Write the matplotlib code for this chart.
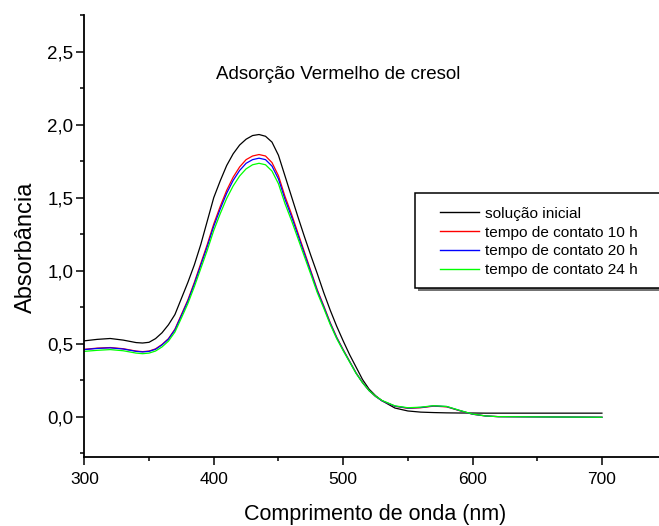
import matplotlib
matplotlib.use("Agg")
import matplotlib.pyplot as plt
from matplotlib.patches import Rectangle
from matplotlib.ticker import MultipleLocator, FuncFormatter

plt.rcParams['font.family'] = ['Liberation Sans', 'DejaVu Sans']

# comprimento de onda (nm)
wavelength = [300, 310, 320, 330, 340, 345, 350, 355, 360, 365, 370, 375, 380, 385,
              390, 395, 400, 405, 410, 415, 420, 425, 430, 435, 440, 445, 450, 455,
              460, 465, 470, 475, 480, 485, 490, 495, 500, 505, 510, 515, 520, 525,
              530, 540, 550, 560, 570, 580, 590, 600, 610, 620, 640, 660, 680, 700]

abs_inicial = [0.520, 0.530, 0.536, 0.525, 0.508, 0.505, 0.510, 0.535, 0.575, 0.630,
               0.700, 0.810, 0.920, 1.040, 1.180, 1.340, 1.500, 1.615, 1.720, 1.800,
               1.860, 1.900, 1.925, 1.932, 1.920, 1.880, 1.790, 1.650, 1.510, 1.370,
               1.235, 1.105, 0.980, 0.850, 0.730, 0.620, 0.520, 0.425, 0.340, 0.255,
               0.190, 0.145, 0.110, 0.060, 0.040, 0.032, 0.029, 0.027, 0.026, 0.026,
               0.025, 0.025, 0.025, 0.025, 0.025, 0.025]

abs_10h = [0.462, 0.470, 0.474, 0.466, 0.450, 0.446, 0.450, 0.465, 0.495, 0.535,
           0.600, 0.700, 0.800, 0.920, 1.050, 1.180, 1.320, 1.440, 1.550, 1.640,
           1.710, 1.760, 1.785, 1.795, 1.785, 1.740, 1.650, 1.510, 1.390, 1.260,
           1.130, 1.000, 0.870, 0.760, 0.645, 0.545, 0.460, 0.380, 0.300, 0.235,
           0.180, 0.140, 0.110, 0.072, 0.058, 0.062, 0.073, 0.068, 0.042, 0.018,
           0.006, 0.001, 0.000, -0.001, -0.002, -0.003]

abs_20h = [0.460, 0.468, 0.472, 0.464, 0.448, 0.444, 0.448, 0.462, 0.492, 0.532,
           0.595, 0.693, 0.792, 0.910, 1.038, 1.166, 1.304, 1.422, 1.530, 1.618,
           1.686, 1.735, 1.760, 1.770, 1.760, 1.716, 1.628, 1.490, 1.372, 1.245,
           1.117, 0.990, 0.862, 0.753, 0.640, 0.541, 0.457, 0.378, 0.299, 0.234,
           0.180, 0.140, 0.110, 0.073, 0.060, 0.064, 0.075, 0.070, 0.043, 0.018,
           0.006, 0.001, 0.000, -0.001, -0.002, -0.003]

abs_24h = [0.448, 0.455, 0.460, 0.452, 0.436, 0.432, 0.436, 0.450, 0.478, 0.518,
           0.580, 0.676, 0.775, 0.890, 1.015, 1.140, 1.275, 1.390, 1.495, 1.580,
           1.648, 1.697, 1.725, 1.735, 1.725, 1.682, 1.595, 1.460, 1.345, 1.222,
           1.098, 0.975, 0.850, 0.743, 0.632, 0.535, 0.453, 0.375, 0.297, 0.233,
           0.180, 0.141, 0.112, 0.075, 0.062, 0.066, 0.076, 0.071, 0.044, 0.019,
           0.006, 0.001, 0.000, -0.001, -0.002, -0.003]

series = [
    ("solução inicial", abs_inicial, "black"),
    ("tempo de contato 10 h", abs_10h, "#ff0000"),
    ("tempo de contato 20 h", abs_20h, "#0000ff"),
    ("tempo de contato 24 h", abs_24h, "#00ff00"),
]

fig = plt.figure(figsize=(6.59, 5.26), dpi=100)
ax = fig.add_axes([0.128, 0.1312, 0.8836, 0.8403])

for label, vals, color in series:
    ax.plot(wavelength, vals, color=color, lw=0.9, label=label)

ax.set_xlim(300, 750)
ax.set_ylim(-0.275, 2.75)

ax.spines['top'].set_visible(False)
ax.spines['right'].set_visible(False)
for s in ('left', 'bottom'):
    ax.spines[s].set_linewidth(1.3)

ax.xaxis.set_major_locator(MultipleLocator(100))
ax.xaxis.set_minor_locator(MultipleLocator(50))
ax.yaxis.set_major_locator(MultipleLocator(0.5))
ax.yaxis.set_minor_locator(MultipleLocator(0.25))
ax.yaxis.set_major_formatter(FuncFormatter(lambda v, p: "{:.1f}".format(v).replace(".", ",")))

ax.tick_params(which='major', direction='out', length=6, width=1.1, labelsize=12.5)
ax.tick_params(which='minor', direction='out', length=3, width=1.1)
ax.tick_params(axis='y', pad=2, labelsize=13.5)
ax.tick_params(axis='x', pad=5)

ax.set_xlabel("Comprimento de onda (nm)", fontsize=15.5, va='baseline')
ax.xaxis.set_label_coords(0.5, -0.1425)
ax.set_ylabel("Absorbância", fontsize=17, va='center')
ax.yaxis.set_label_coords(-0.1, 0.474)

ax.text(496, 2.345, "Adsorção Vermelho de cresol", fontsize=13.5,
        ha='center', va='center')

# caixa da legenda com sombra (estilo Origin)
W, H = 659.0, 526.0
bx0, by0, bx1, by1 = 415, 193, 664, 288
shadow = Rectangle(((bx0 + 3) / W, 1 - (by1 + 3) / H), (bx1 - bx0) / W,
                   (by1 - by0) / H, transform=fig.transFigure,
                   facecolor='0.45', edgecolor='none', zorder=5, clip_on=False)
box = Rectangle((bx0 / W, 1 - by1 / H), (bx1 - bx0) / W, (by1 - by0) / H,
                transform=fig.transFigure, facecolor='white',
                edgecolor='black', lw=1.1, zorder=6, clip_on=False)
ax.add_patch(shadow)
ax.add_patch(box)

leg = ax.legend(loc='center left', bbox_to_anchor=(440 / W, 1 - 242 / H),
                bbox_transform=fig.transFigure, frameon=False, fontsize=11.1,
                borderpad=0, borderaxespad=0, handlelength=2.55, handletextpad=0.4,
                labelspacing=0.32)
leg.set_zorder(7)
for line in leg.get_lines():
    line.set_linewidth(1.0)

fig.savefig("out.png", dpi=100)
